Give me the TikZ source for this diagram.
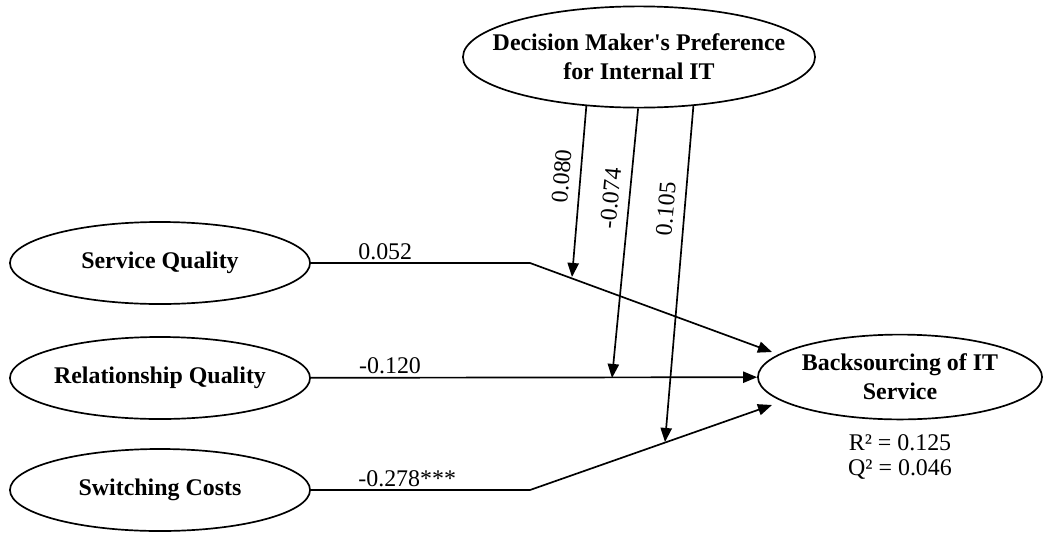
\documentclass[tikz,border=0pt]{standalone}
\usepackage{fontspec}
\setmainfont{Liberation Serif}
\usetikzlibrary{shapes.geometric,arrows.meta}
\begin{document}
\begin{tikzpicture}[x=0.025cm,y=-0.025cm]
		\tikzstyle{LV}=[ellipse,draw=black,line width=1.2pt,inner xsep=-12pt,inner ysep=0pt,minimum width=7.5cm,minimum height=2.05cm,align=center,font=\fontsize{17}{20.5}\selectfont\bfseries]
		\tikzstyle{coef}=[font=\fontsize{17}{18}\selectfont,inner sep=2pt]
		\tikzstyle{arr}=[line width=1.2pt,-{Triangle[length=10pt,width=8pt]}]
		\useasboundingbox (0,0) rectangle (1044,533);

		\node[LV] (SQ) at (160,263) {Service Quality};
		\node[LV] (RQ) at (160,378) {Relationship Quality};
		\node[LV] (SC) at (160,490) {Switching Costs};
		\node[LV,minimum width=7.1cm,minimum height=2.12cm] (BS) at (900,377) {Backsourcing of IT\\Service};
		\node[LV,inner xsep=-18pt,minimum width=8.8cm,minimum height=2.53cm] (DM) at (639,57) {Decision Maker\textquotesingle s Preference\\for Internal IT};
		\node[coef,align=center] (R2) at (900,457) {R² = 0.125\\Q² = 0.046};

		\coordinate (SQ-k) at (530,263);
		\coordinate (SC-k) at (530,490);
		\coordinate (BS-1) at (772,352);
		\coordinate (BS-3) at (772,405);
		\coordinate (M-1) at (572,277);
		\coordinate (M-2) at (612,378);
		\coordinate (M-3) at (665,442);

		\draw[arr] (SQ) -- (SQ-k) node[coef,pos=0.2,anchor=south west] {0.052} -- (BS-1);
		\draw[arr] (RQ) -- (BS) node[coef,pos=0.1,anchor=south west] {-0.120};
		\draw[arr] (SC) -- (SC-k) node[coef,pos=0.2,anchor=south west] {-0.278***} -- (BS-3);

		\path[arr]
		(DM.223) edge node[coef,sloped,above=5pt,pos=0.42] {0.080} (M-1)
		(DM.269) edge node[coef,sloped,above=5pt,pos=0.34] {-0.074} (M-2)
		(DM.318) edge node[coef,sloped,above=5pt,pos=0.31] {0.105} (M-3)
		;
		\end{tikzpicture}
\end{document}
